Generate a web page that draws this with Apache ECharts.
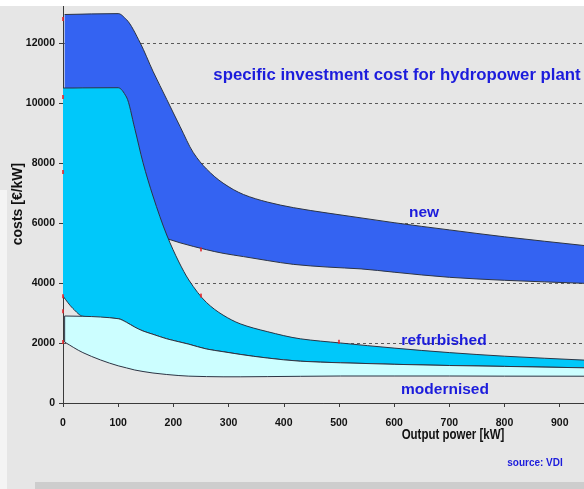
<!DOCTYPE html>
<html>
<head>
<meta charset="utf-8">
<style>
  html, body { margin: 0; padding: 0; background: #ffffff; }
  #chart { width: 584px; height: 489px; }
</style>
<script src="https://cdn.jsdelivr.net/npm/echarts@6/dist/echarts.min.js"></script>
</head>
<body>
<div id="chart"></div>
<script>
// Specific investment cost of hydropower plants by output power (source: VDI)

// "new" plants: cost band, output power in kW, cost in €/kW
const newPower = [3, 100, 115, 140, 163, 188, 212, 236, 260, 290, 327, 370, 418, 480, 540, 600, 700, 800, 944];
const newLow   = [5800, 5800, 5800, 5750, 5650, 5480, 5340, 5220, 5110, 4990, 4880, 4750, 4620, 4530, 4470, 4360, 4190, 4090, 3990];
const newHigh  = [12950, 12980, 12780, 12000, 11060, 10120, 9220, 8350, 7800, 7330, 6950, 6700, 6510, 6330, 6170, 6010, 5770, 5540, 5250];

// "refurbished" plants
const refPower = [0, 18, 36, 100, 115, 130, 145, 163, 188, 210, 228, 260, 290, 321, 370, 430, 503, 600, 700, 800, 944];
const refLow   = [3560, 3150, 2890, 2810, 2690, 2530, 2400, 2290, 2140, 2040, 1960, 1800, 1710, 1620, 1500, 1393, 1340, 1290, 1250, 1220, 1173];
const refHigh  = [10500, 10500, 10505, 10510, 10200, 9150, 8010, 6900, 5600, 4700, 4100, 3350, 2930, 2640, 2380, 2140, 2000, 1830, 1680, 1560, 1430];

// "modernised" plants: top edge is 2900 at the start, then follows the refurbished lower edge
const modPower = [3].concat(refPower.slice(2));
const modHigh  = [2900].concat(refLow.slice(2));
const modLow   = [2030, 1680, 1240, 1170, 1100, 1050, 1000, 950, 915, 895, 880, 873, 873, 880, 890, 900, 900, 900, 895, 893];

// survey points marked on the curves
const markPoints = [[0, 12800], [0, 10200], [0, 7700], [0, 3560], [0, 3060], [0, 2030], [250, 5120], [250, 3580], [500, 2040]];

// axis ticks
const xTicks = [0, 100, 200, 300, 400, 500, 600, 700, 800, 900];
const yTicks = [0, 2000, 4000, 6000, 8000, 10000, 12000];

const bandLabels = ['new', 'refurbished', 'modernised'];
const titleText = 'specific investment cost for hydropower plant';
const xName = 'Output power [kW]';
const yName = 'costs [€/kW]';
const sourceText = 'source: VDI';

const BLUE_TEXT = '#1c1cdc';
const EDGE = '#2c3444';
const SANS = '"Liberation Sans", Arial, sans-serif';

// Monotone cubic (Fritsch-Carlson) segments through pixel points with increasing x
function curveSegments(pts) {
  const n = pts.length;
  const dx = [], m = [];
  for (let i = 0; i < n - 1; i++) {
    dx[i] = pts[i + 1][0] - pts[i][0];
    m[i] = (pts[i + 1][1] - pts[i][1]) / dx[i];
  }
  const t = new Array(n);
  t[0] = m[0];
  t[n - 1] = m[n - 2];
  for (let i = 1; i < n - 1; i++) {
    if (m[i - 1] * m[i] <= 0) {
      t[i] = 0;
    } else {
      const w1 = 2 * dx[i] + dx[i - 1];
      const w2 = dx[i] + 2 * dx[i - 1];
      t[i] = (w1 + w2) / (w1 / m[i - 1] + w2 / m[i]);
    }
  }
  const segs = [];
  for (let i = 0; i < n - 1; i++) {
    const h = dx[i];
    const p0 = pts[i], p1 = pts[i + 1];
    segs.push({
      p0, p1,
      c1: [p0[0] + h / 3, p0[1] + t[i] * h / 3],
      c2: [p1[0] - h / 3, p1[1] - t[i + 1] * h / 3]
    });
  }
  return segs;
}
const fmt = p => p[0].toFixed(2) + ' ' + p[1].toFixed(2);
function forwardPath(segs) {
  return segs.map(s => 'C ' + fmt(s.c1) + ' ' + fmt(s.c2) + ' ' + fmt(s.p1)).join(' ');
}
function reversePath(segs) {
  return segs.slice().reverse().map(s => 'C ' + fmt(s.c2) + ' ' + fmt(s.c1) + ' ' + fmt(s.p0)).join(' ');
}

// Cost band drawn through the cartesian scales: filled area plus outlined edges
function bandSeries(name, xs, hi, lo, color, leftEdge) {
  return {
    name, type: 'custom', coordinateSystem: 'cartesian2d', silent: true, clip: true,
    data: [[xs[0], hi[0]]],
    encode: { x: 0, y: 1 },
    renderItem: function (params, api) {
      const top = xs.map((x, i) => api.coord([x, hi[i]]));
      const bot = xs.map((x, i) => api.coord([x, lo[i]]));
      const topSegs = curveSegments(top);
      const botSegs = curveSegments(bot);
      const last = bot[bot.length - 1];
      const fillPath = 'M ' + fmt(top[0]) + ' ' + forwardPath(topSegs) +
        ' L ' + fmt(last) + ' ' + reversePath(botSegs) + ' Z';
      const children = [
        { type: 'path', shape: { pathData: fillPath }, style: { fill: color, stroke: null } },
        { type: 'path', shape: { pathData: 'M ' + fmt(top[0]) + ' ' + forwardPath(topSegs) },
          style: { fill: null, stroke: EDGE, lineWidth: 1 } },
        { type: 'path', shape: { pathData: 'M ' + fmt(bot[0]) + ' ' + forwardPath(botSegs) },
          style: { fill: null, stroke: EDGE, lineWidth: 1 } }
      ];
      if (leftEdge) {
        children.push({ type: 'line', shape: { x1: top[0][0], y1: top[0][1], x2: bot[0][0], y2: bot[0][1] },
          style: { stroke: EDGE, lineWidth: 1 } });
      }
      return { type: 'group', children };
    }
  };
}

const chart = echarts.init(document.getElementById('chart'), null, { renderer: 'canvas' });

chart.setOption({
  animation: false,
  backgroundColor: '#e6e6e6',
  grid: { left: 63, right: 0, top: 5, bottom: 86, outerBoundsMode: 'none', containLabel: false },
  xAxis: {
    type: 'value', min: 0, max: 944, interval: 100,
    axisLine: { show: true, lineStyle: { color: '#3a3a3a', width: 1 } },
    axisTick: { show: true, length: 4, lineStyle: { color: '#3a3a3a' } },
    axisLabel: {
      margin: 15, color: '#111', fontFamily: SANS, fontSize: 10.5, fontWeight: 'bold',
      showMaxLabel: false,
      formatter: v => (xTicks.indexOf(v) >= 0 ? String(v) : '')
    },
    splitLine: { show: false }
  },
  yAxis: {
    type: 'value', min: 0, max: 13267, interval: 2000,
    axisLine: { show: true, lineStyle: { color: '#3a3a3a', width: 1 } },
    axisTick: { show: true, length: 4, lineStyle: { color: '#3a3a3a' } },
    axisLabel: {
      margin: 8, color: '#111', fontFamily: SANS, fontSize: 10.5, fontWeight: 'bold',
      showMaxLabel: false,
      formatter: v => (yTicks.indexOf(v) >= 0 ? String(v) : '')
    },
    splitLine: {
      show: true,
      lineStyle: { color: '#5a5a5a', width: 1, type: [3, 3] }
    }
  },
  series: [
    bandSeries(bandLabels[0], newPower, newHigh, newLow, '#3463f2', false),
    bandSeries(bandLabels[1], refPower, refHigh, refLow, '#00c8fa', false),
    bandSeries(bandLabels[2], modPower, modHigh, modLow, '#ccfeff', true),
    {
      name: 'points', type: 'scatter', data: markPoints, silent: true,
      symbol: 'rect', symbolSize: [2, 4], clip: false, z: 5,
      itemStyle: { color: '#e3262b' }
    }
  ],
  graphic: [
    { type: 'rect', left: 0, top: 0, z: 100, silent: true,
      shape: { width: 584, height: 6 }, style: { fill: '#ffffff' } },
    { type: 'rect', left: 0, top: 190, z: 100, silent: true,
      shape: { width: 7, height: 299 }, style: { fill: '#f4f4f4' } },
    { type: 'rect', left: 35, top: 482, z: 100, silent: true,
      shape: { width: 549, height: 7 }, style: { fill: '#cdcdcd' } },
    { type: 'text', x: 18, y: 204, rotation: Math.PI / 2, z: 100, silent: true,
      style: { text: yName, textAlign: 'center', textVerticalAlign: 'middle',
               font: 'bold 14px ' + SANS, fill: '#111' } },
    { type: 'text', x: 397, y: 75, z: 100, silent: true,
      style: { text: titleText, textAlign: 'center', textVerticalAlign: 'middle',
               font: 'bold 16.8px ' + SANS, fill: BLUE_TEXT } },
    { type: 'text', x: 424, y: 213, z: 100, silent: true,
      style: { text: bandLabels[0], textAlign: 'center', textVerticalAlign: 'middle',
               font: 'bold 15.5px ' + SANS, fill: BLUE_TEXT } },
    { type: 'text', x: 444, y: 341, z: 100, silent: true,
      style: { text: bandLabels[1], textAlign: 'center', textVerticalAlign: 'middle',
               font: 'bold 15.5px ' + SANS, fill: BLUE_TEXT } },
    { type: 'text', x: 445, y: 390, z: 100, silent: true,
      style: { text: bandLabels[2], textAlign: 'center', textVerticalAlign: 'middle',
               font: 'bold 15.5px ' + SANS, fill: BLUE_TEXT } },
    { type: 'text', x: 453, y: 435, z: 100, silent: true, scaleX: 0.82,
      style: { text: xName, textAlign: 'center', textVerticalAlign: 'middle',
               font: 'bold 14px ' + SANS, fill: '#111' } },
    { type: 'text', x: 535, y: 463, z: 100, silent: true,
      style: { text: sourceText, textAlign: 'center', textVerticalAlign: 'middle',
               font: 'bold 10px ' + SANS, fill: BLUE_TEXT } }
  ]
});
</script>
</body>
</html>
